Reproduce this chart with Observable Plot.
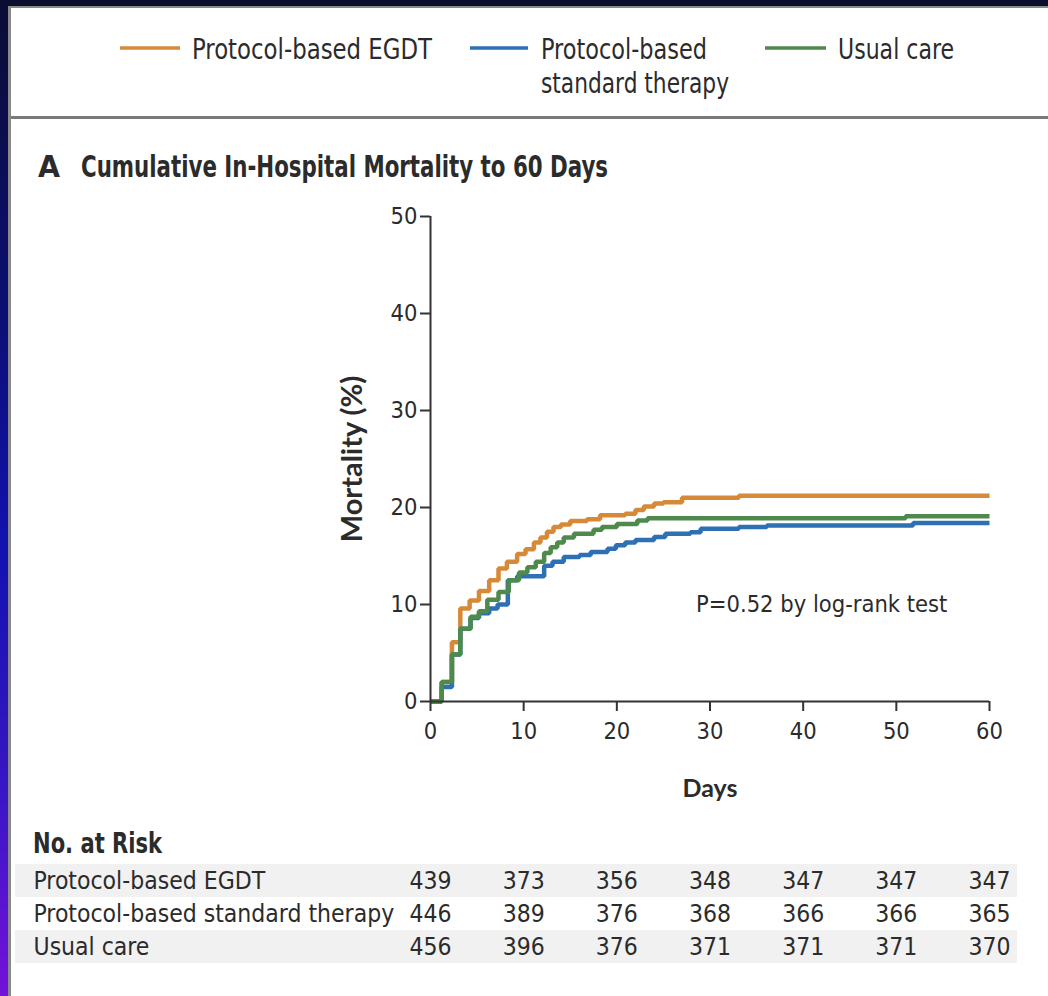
<!DOCTYPE html>
<html>
<head>
<meta charset="utf-8">
<script src="https://cdn.jsdelivr.net/npm/d3@7"></script>
<script src="https://cdn.jsdelivr.net/npm/@observablehq/plot@0.6"></script>
<style>
  html, body { margin: 0; padding: 0; }
  body { width: 1048px; height: 996px; position: relative; overflow: hidden; background: #0c0f2c; }
  #strip { position: absolute; left: 0; top: 0; width: 9px; height: 996px;
    background: linear-gradient(#0b0d33 0%, #0b0f70 30%, #1212b0 55%, #3a16c4 80%, #7412d8 100%); }
  #panel { position: absolute; left: 8px; top: 6px; right: 0; bottom: 0; background: #fff;
    border-left: 3px solid #8a8a8a; border-top: 2px solid #8a8a8a; }
  .layer { position: absolute; left: 0; }
  svg text { fill: #2b2b2b; }
</style>
</head>
<body>
<div id="strip"></div>
<div id="panel"></div>

<!-- header: legend, separator and panel title -->
<svg class="layer" style="top:0" width="1048" height="200" id="header">
  <line x1="11" x2="1048" y1="117.5" y2="117.5" stroke="#7a7a7a" stroke-width="3"/>
</svg>
<div class="layer" id="chart" style="top:190px"></div>
<svg class="layer" style="top:820px" width="1048" height="43" id="riskTitle"></svg>
<div class="layer" id="risk" style="top:863px"></div>

<script>
const NARROW = '"Liberation Sans Narrow", "DejaVu Sans Condensed", "Arial Narrow", sans-serif';
const BOLD = 'Lato, "Liberation Sans", sans-serif';

// Treatment groups and their colours
const groups = ["Protocol-based EGDT", "Protocol-based standard therapy", "Usual care"];
const groupColors = ["#d68a38", "#2e70b4", "#4e8a4b"];

// Kaplan–Meier step points: day of each step and cumulative mortality (%) after it
const egdtDays      = [0, 1.2, 2.3, 3.2, 4.2, 5.2, 6.3, 7.3, 8.2, 9.3, 10.2, 11.1, 11.8, 12.5, 13.2, 14.0, 15.0, 16.8, 18.2, 20.9, 22.0, 22.9, 24.0, 25.0, 27.0, 33.1, 60];
const egdtMortality = [0, 2.0, 6.1, 9.6, 10.4, 11.4, 12.5, 13.7, 14.4, 15.2, 15.7, 16.4, 16.9, 17.5, 18.0, 18.25, 18.6, 18.8, 19.2, 19.35, 19.75, 20.1, 20.4, 20.55, 21.0, 21.2, 21.2];

const standardDays      = [0, 1.2, 2.3, 3.2, 4.3, 5.2, 6.3, 7.2, 8.3, 9.3, 12.2, 13.1, 14.3, 16.0, 17.2, 19.0, 19.9, 20.9, 22.0, 24.0, 25.2, 27.9, 29.0, 33.1, 36.1, 51.8, 60];
const standardMortality = [0, 1.5, 4.85, 7.5, 8.6, 9.1, 9.6, 10.0, 12.5, 12.9, 14.0, 14.4, 14.9, 15.1, 15.4, 15.75, 16.1, 16.4, 16.65, 16.95, 17.3, 17.45, 17.8, 18.0, 18.15, 18.4, 18.4];

const usualDays      = [0, 1.2, 2.3, 3.2, 4.3, 5.2, 6.1, 7.3, 8.4, 9.5, 10.4, 11.3, 12.2, 12.9, 13.6, 14.3, 15.4, 17.5, 18.4, 20.0, 22.2, 23.3, 51.0, 60];
const usualMortality = [0, 2.0, 4.85, 7.5, 8.75, 9.3, 10.5, 11.3, 12.5, 13.3, 13.85, 14.4, 15.3, 15.9, 16.4, 16.9, 17.3, 17.7, 18.0, 18.3, 18.65, 18.9, 19.1, 19.1];

// Axis ticks
const dayTicks = [0, 10, 20, 30, 40, 50, 60];
const mortalityTicks = [0, 10, 20, 30, 40, 50];

// Number at risk at each tick day
const riskDays = [0, 10, 20, 30, 40, 50, 60];
const egdtAtRisk     = [439, 373, 356, 348, 347, 347, 347];
const standardAtRisk = [446, 389, 376, 368, 366, 366, 365];
const usualAtRisk    = [456, 396, 376, 371, 371, 371, 370];

// Log-rank annotation and where it sits in data space
const pValueText = "P=0.52 by log-rank test";
const pValueAt = {day: 28.5, mortality: 10};

// ---- header (legend + title) ----
const ns = "http://www.w3.org/2000/svg";
function svgEl(parent, tag, attrs, text) {
  const el = document.createElementNS(ns, tag);
  for (const [k, v] of Object.entries(attrs)) el.setAttribute(k, v);
  if (text != null) el.textContent = text;
  parent.appendChild(el);
  return el;
}
const header = document.getElementById("header");
// legend entries: swatch extent, text start and fitted text widths
const legendItems = [
  {x1: 120, x2: 180, tx: 192, lines: ["Protocol-based EGDT"], widths: [240]},
  {x1: 470, x2: 528, tx: 541, lines: ["Protocol-based", "standard therapy"], widths: [166, 188]},
  {x1: 765, x2: 826, tx: 838, lines: ["Usual care"], widths: [116]}
];
legendItems.forEach((item, i) => {
  svgEl(header, "line", {x1: item.x1, x2: item.x2, y1: 48, y2: 48, stroke: groupColors[i], "stroke-width": 3.5});
  item.lines.forEach((t, j) => svgEl(header, "text", {
    x: item.tx, y: 59 + j * 34, "font-family": NARROW, "font-size": 28,
    textLength: item.widths[j], lengthAdjust: "spacingAndGlyphs"}, t));
});
svgEl(header, "text", {x: 38, y: 177, "font-family": NARROW, "font-size": 31, "font-weight": "bold",
  textLength: 22, lengthAdjust: "spacingAndGlyphs"}, "A");
svgEl(header, "text", {x: 81, y: 177, "font-family": NARROW, "font-size": 30, "font-weight": "bold",
  textLength: 527, lengthAdjust: "spacingAndGlyphs"}, "Cumulative In-Hospital Mortality to 60 Days");

svgEl(document.getElementById("riskTitle"), "text", {x: 33, y: 33, "font-family": NARROW, "font-size": 29,
  "font-weight": "bold", textLength: 129, lengthAdjust: "spacingAndGlyphs"}, "No. at Risk");

// ---- survival curves ----
const seriesDays = [egdtDays, standardDays, usualDays];
const seriesMortality = [egdtMortality, standardMortality, usualMortality];
const curves = groups.flatMap((g, i) =>
  seriesDays[i].map((d, j) => ({group: g, day: d, mortality: seriesMortality[i][j]})));

const chart = Plot.plot({
  width: 1048,
  height: 620,
  marginLeft: 430,
  marginRight: 59,
  marginTop: 26,
  marginBottom: 109,
  style: {fontFamily: NARROW, fontSize: "23.5px", color: "#2b2b2b", background: "transparent", overflow: "visible"},
  x: {domain: [0, 60]},
  y: {domain: [0, 50]},
  color: {domain: groups, range: groupColors},
  marks: [
    Plot.line(curves, {x: "day", y: "mortality", stroke: "group", curve: "step-after",
      strokeWidth: 4.5, strokeLinejoin: "miter", strokeLinecap: "butt"}),
    Plot.ruleX([0], {stroke: "#333", strokeWidth: 2}),
    Plot.ruleY([0], {stroke: "#333", strokeWidth: 2}),
    Plot.axisX({ticks: dayTicks, tickSize: 10, tickPadding: 11, strokeWidth: 2, label: null, stroke: "#333"}),
    Plot.axisY({ticks: mortalityTicks, tickSize: 10, tickPadding: 3, strokeWidth: 2, label: null, stroke: "#333"}),
    Plot.text([pValueText], {x: () => pValueAt.day, y: () => pValueAt.mortality, text: d => d,
      textAnchor: "start", fontSize: 23.5, fill: "#2b2b2b"}),
    Plot.text(["Days"], {text: d => d, frameAnchor: "bottom", lineAnchor: "middle", textAnchor: "middle", dy: 87,
      fontFamily: BOLD, fontWeight: "bold", fontSize: 25, fill: "#2b2b2b"}),
    Plot.text(["Mortality (%)"], {text: d => d, frameAnchor: "left", textAnchor: "middle", lineAnchor: "middle",
      dx: -78, rotate: -90, fontFamily: BOLD, fontWeight: "bold", fontSize: 29, fill: "#2b2b2b"})
  ]
});
document.getElementById("chart").appendChild(chart);

// ---- number-at-risk table ----
const atRisk = [egdtAtRisk, standardAtRisk, usualAtRisk];
const riskRows = groups.flatMap((g, i) => riskDays.map((d, j) => ({group: g, day: d, n: atRisk[i][j]})));

const risk = Plot.plot({
  width: 1048,
  height: 101,
  margin: 0,
  style: {fontFamily: NARROW, fontSize: "24.5px", color: "#2b2b2b", background: "transparent", overflow: "visible"},
  x: {domain: [0, 60], range: [430, 989], axis: null},
  y: {domain: groups, padding: 0, axis: null},
  marks: [
    Plot.cell([groups[0], groups[2]], {y: d => d, fill: "#f1f1f1", insetLeft: 15, insetRight: 31}),
    Plot.text(riskRows, {x: "day", y: "group", text: "n", fontSize: 24.5, fill: "#2b2b2b"}),
    Plot.text(groups, {y: d => d, text: d => d, frameAnchor: "left", dx: 33, textAnchor: "start",
      fontSize: 24.5, fill: "#2b2b2b"})
  ]
});
document.getElementById("risk").appendChild(risk);
</script>
</body>
</html>
